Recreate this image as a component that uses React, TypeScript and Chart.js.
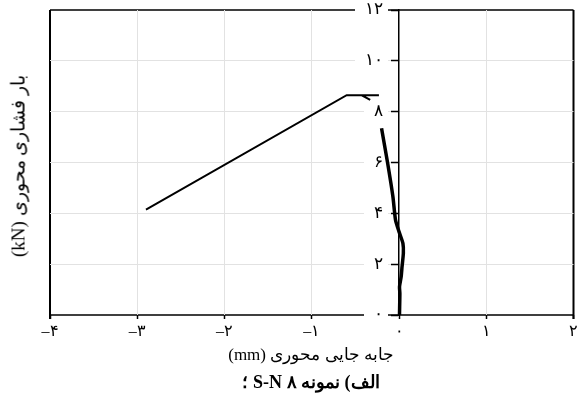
import React, { useEffect, useRef } from "react";
import { Chart, registerables } from "chart.js";

Chart.register(...registerables);

const xTickValues = [-4, -3, -2, -1, 0, 1, 2];
const xTickLabels = ["–۴", "–۳", "–۲", "–۱", "۰", "۱", "۲"];
const yTickValues = [0, 2, 4, 6, 8, 10, 12];
const yTickLabels = ["۰", "۲", "۴", "۶", "۸", "۱۰", "۱۲"];

// thin curve (left branch)
const curveAX = [-2.9, -0.6, -0.23, -0.43, -0.33];
const curveAY = [4.15, 8.65, 8.65, 8.65, 8.46];

// thick curve (near zero)
const curveBX = [-0.2, -0.13, -0.07, -0.04, 0.0, 0.045, 0.05, 0.035, 0.025, 0.006, 0.01, 0.006, 0.006];
const curveBY = [7.35, 5.97, 4.66, 3.74, 3.28, 2.82, 2.43, 1.9, 1.51, 1.11, 0.85, 0.07, 0];

const xTitle = "جابه جایی محوری (mm)";
const yTitle = "بار فشاری محوری (kN)";
const caption = "الف) نمونه ۸ S-N ؛";

const FONT = '"Times New Roman", "Liberation Serif", serif';

const framePlugin = {
  id: "frame",
  beforeDraw(chart: any) {
    const { ctx, chartArea } = chart;
    ctx.save();
    ctx.fillStyle = "#fff";
    ctx.fillRect(0, 0, chart.width, chart.height);
    ctx.strokeStyle = "#000";
    ctx.lineWidth = 1.5;
    ctx.beginPath();
    ctx.moveTo(chartArea.left, chartArea.top);
    ctx.lineTo(chartArea.right, chartArea.top);
    ctx.moveTo(chartArea.left, chartArea.bottom);
    ctx.lineTo(chartArea.right, chartArea.bottom);
    ctx.stroke();
    ctx.lineWidth = 2;
    ctx.beginPath();
    ctx.moveTo(chartArea.left, chartArea.top);
    ctx.lineTo(chartArea.left, chartArea.bottom + 4);
    ctx.moveTo(chartArea.right, chartArea.top);
    ctx.lineTo(chartArea.right, chartArea.bottom + 4);
    ctx.stroke();
    ctx.restore();
  },
  beforeDatasetsDraw(chart: any) {
    const { ctx } = chart;
    const xs = chart.scales.x;
    const ys = chart.scales.y;
    const axisX = xs.getPixelForValue(0);
    const right = axisX - 16;
    ctx.save();
    ctx.font = `17px ${FONT}`;
    ctx.textAlign = "right";
    ctx.textBaseline = "middle";
    yTickValues.forEach((v, i) => {
      const py = ys.getPixelForValue(v);
      const label = yTickLabels[i];
      const w = ctx.measureText(label).width;
      ctx.fillStyle = "#fff";
      ctx.fillRect(right - w - 10, py - 7, w + 15, 14);
      ctx.fillStyle = "#000";
      ctx.fillText(label, right, py);
    });
    ctx.restore();
  },
};

export default function App() {
  const ref = useRef<HTMLCanvasElement | null>(null);

  useEffect(() => {
    if (!ref.current) return;
    const chart = new Chart(ref.current, {
      type: "line",
      data: {
        datasets: [
          {
            data: curveAX.map((x, i) => ({ x, y: curveAY[i] })),
            borderColor: "#000",
            borderWidth: 2,
            pointRadius: 0,
            tension: 0,
            fill: false,
          },
          {
            data: curveBX.map((x, i) => ({ x, y: curveBY[i] })),
            borderColor: "#000",
            borderWidth: 3.5,
            pointRadius: 0,
            tension: 0.2,
            fill: false,
          },
        ],
      },
      options: {
        responsive: false,
        animation: false,
        events: [],
        layout: { padding: { left: 50, right: 0, top: 10, bottom: 0 } },
        plugins: { legend: { display: false }, tooltip: { enabled: false } },
        scales: {
          x: {
            type: "linear",
            min: -4,
            max: 2,
            position: "bottom",
            afterFit: (s: any) => {
              s.height = 97;
            },
            afterBuildTicks: (s: any) => {
              s.ticks = xTickValues.map((v) => ({ value: v }));
            },
            ticks: {
              autoSkip: false,
              maxRotation: 0,
              color: "#000",
              padding: 3,
              font: { family: FONT, size: 16 },
              callback: (v: any) => xTickLabels[xTickValues.indexOf(Number(v))] ?? "",
            },
            grid: {
              color: (c: any) =>
                c.tick && [-3, -2, -1, 1].includes(c.tick.value) ? "#e2e2e2" : "rgba(0,0,0,0)",
              tickColor: "#000",
              tickLength: 4,
              tickWidth: 1.5,
            },
            border: { display: false },
          },
          y: {
            type: "linear",
            min: 0,
            max: 12,
            position: { x: 0 } as any,
            afterBuildTicks: (s: any) => {
              s.ticks = yTickValues.map((v) => ({ value: v }));
            },
            ticks: { display: false },
            grid: {
              color: (c: any) =>
                c.tick && c.tick.value > 0 && c.tick.value < 12 ? "#e2e2e2" : "rgba(0,0,0,0)",
              tickColor: "#000",
              tickLength: 7,
              tickWidth: 1.5,
            },
            border: { display: true, color: "#000", width: 1.5 },
          },
        },
      },
      plugins: [framePlugin],
    });
    return () => chart.destroy();
  }, []);

  return (
    <div style={{ position: "absolute", left: 0, top: 0, width: 581, height: 412, background: "#fff", fontFamily: FONT }}>
      <canvas ref={ref} width={581} height={412} style={{ position: "absolute", left: 0, top: 0, width: 581, height: 412 }} />
      <div
        dir="rtl"
        style={{
          position: "absolute",
          left: 311,
          top: 344,
          transform: "translateX(-50%)",
          whiteSpace: "nowrap",
          fontSize: 17,
          color: "#000",
        }}
      >
        {xTitle}
      </div>
      <div
        dir="rtl"
        style={{
          position: "absolute",
          left: 311,
          top: 371,
          transform: "translateX(-50%)",
          whiteSpace: "nowrap",
          fontSize: 18,
          fontWeight: "bold",
          color: "#000",
        }}
      >
        {caption}
      </div>
      <div
        dir="rtl"
        style={{
          position: "absolute",
          left: 18,
          top: 166,
          transform: "translate(-50%, -50%) rotate(-90deg)",
          whiteSpace: "nowrap",
          fontSize: 19,
          color: "#000",
        }}
      >
        {yTitle}
      </div>
    </div>
  );
}
